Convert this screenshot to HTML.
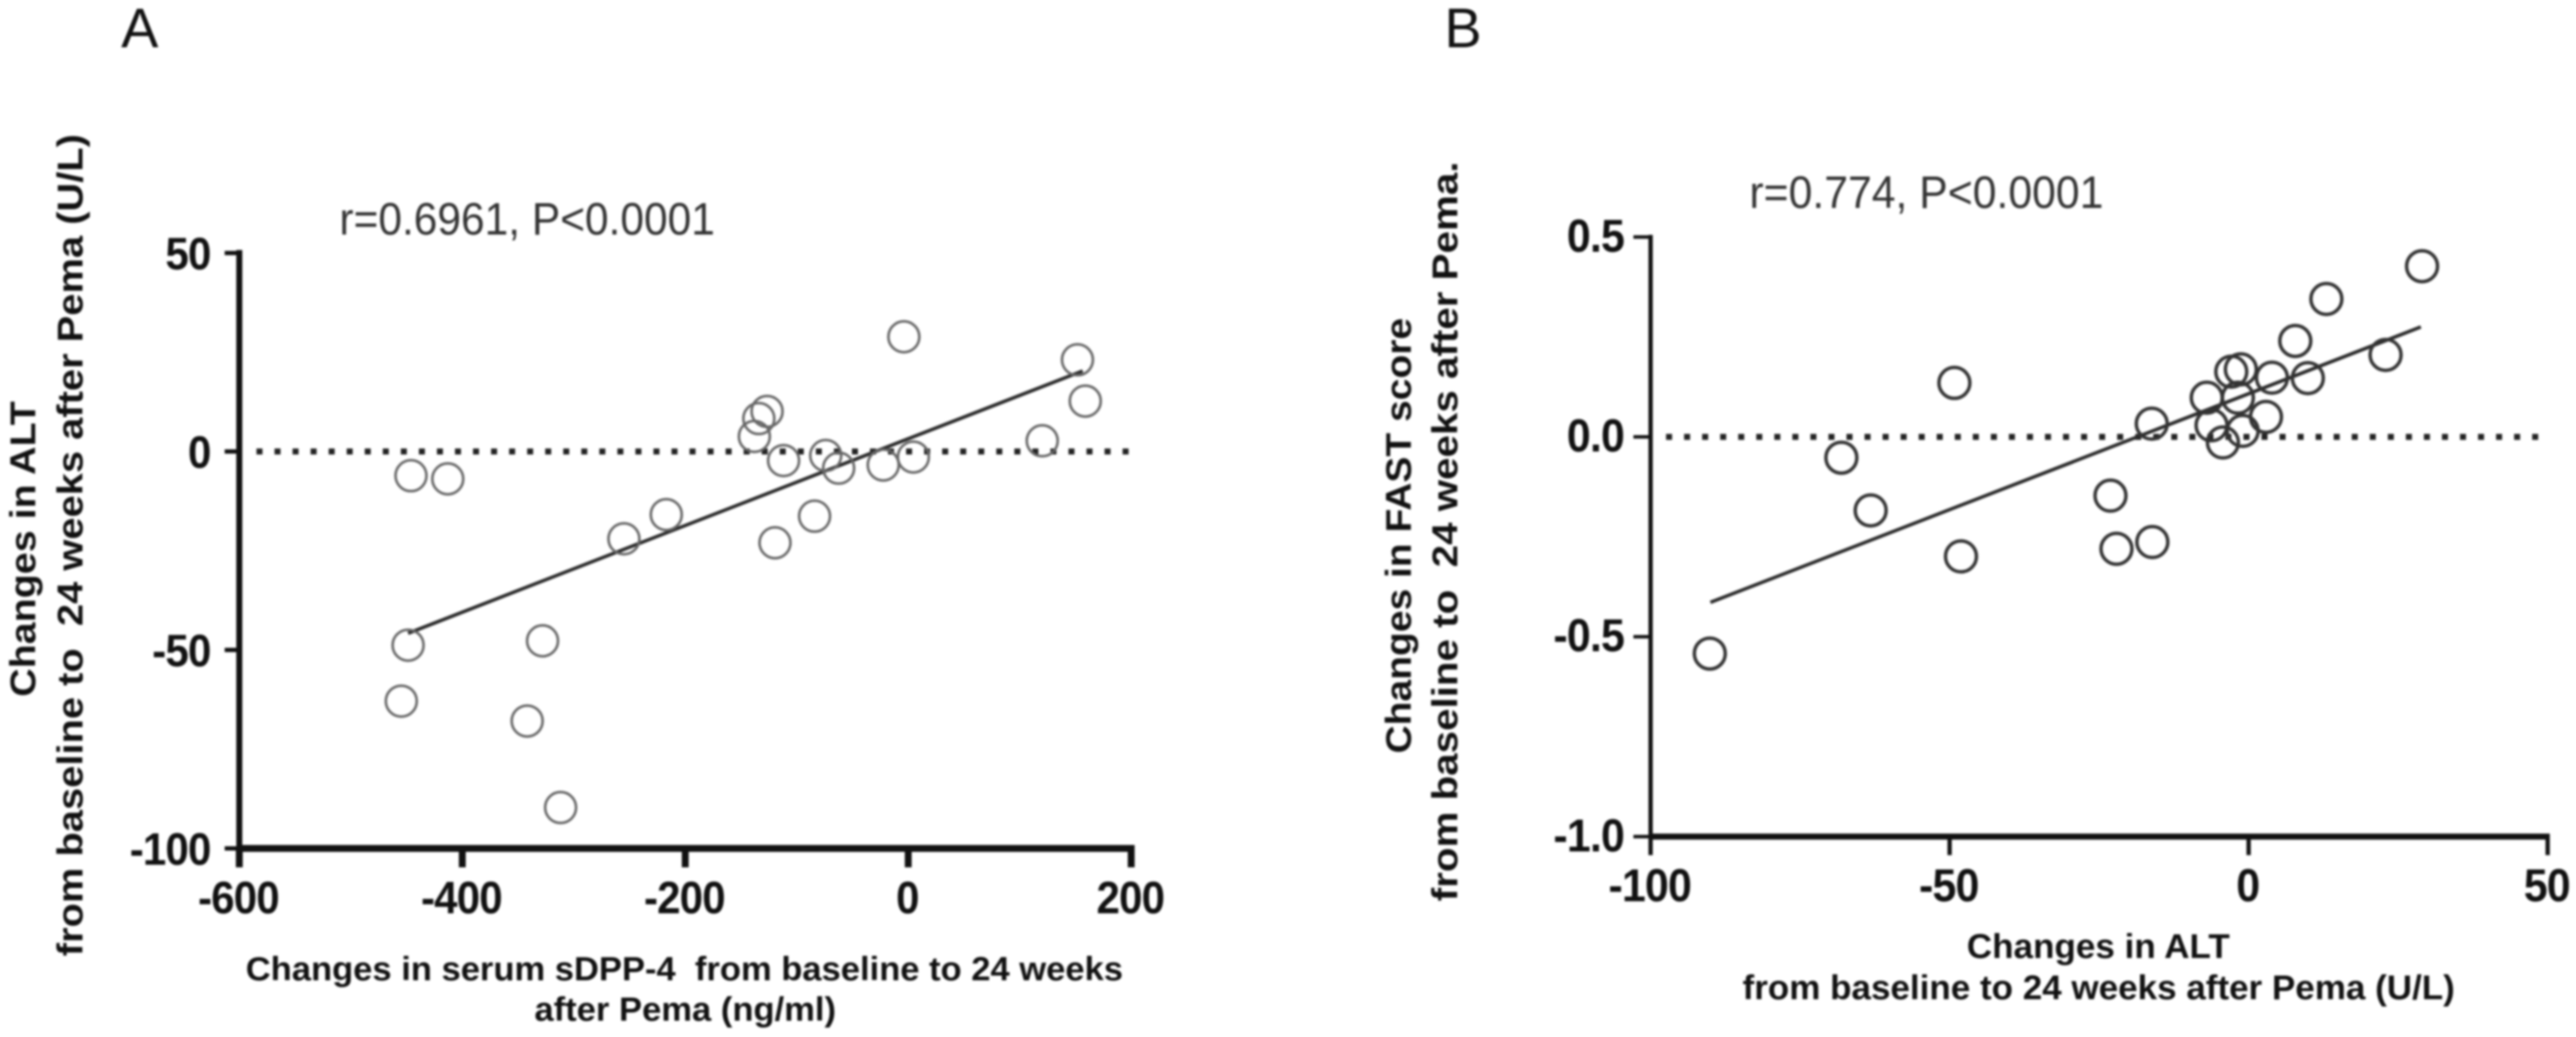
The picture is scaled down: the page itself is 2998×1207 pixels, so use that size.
<!DOCTYPE html>
<html lang="en">
<head>
<meta charset="utf-8">
<title>Scatter plots of ALT, sDPP-4 and FAST score changes</title>
<style>
  html, body { margin: 0; padding: 0; background: #fff; }
  body { width: 2998px; height: 1207px; overflow: hidden; }
  svg { display: block; filter: blur(1.2px); }
  text { font-family: "Liberation Sans", Arial, sans-serif; fill: #111; }
  .title { font-weight: bold; font-size: 42px; }
  .tick { font-weight: bold; letter-spacing: -1px; }
  .stat { font-size: 53px; fill: #333; }
  .panel { font-size: 65px; fill: #111; }
</style>
</head>
<body>
<svg id="figure" width="2998" height="1207" viewBox="0 0 2998 1207" xmlns="http://www.w3.org/2000/svg">
  <rect x="0" y="0" width="2998" height="1207" fill="#fff"/>

  <g id="panel-a">
    <text class="panel" x="141" y="55">A</text>
    <text class="stat" x="395" y="273" textLength="437" lengthAdjust="spacingAndGlyphs">r=0.6961, P&lt;0.0001</text>
    <text class="title" transform="translate(41,811) rotate(-90)" x="0" y="0" textLength="344" lengthAdjust="spacingAndGlyphs">Changes in ALT</text>
    <text class="title" transform="translate(96,1113) rotate(-90)" x="0" y="0" textLength="957" lengthAdjust="spacingAndGlyphs" xml:space="preserve">from baseline to  24 weeks after Pema (U/L)</text>
    <text class="title" style="font-size:39px" x="286" y="1141" textLength="1021" lengthAdjust="spacingAndGlyphs" xml:space="preserve">Changes in serum sDPP-4  from baseline to 24 weeks</text>
    <text class="title" style="font-size:39px" x="622" y="1188" textLength="351" lengthAdjust="spacingAndGlyphs">after Pema (ng/ml)</text>
  </g>

  <g id="panel-b">
    <text class="panel" x="1681" y="55">B</text>
    <text class="stat" x="2036" y="242" textLength="412" lengthAdjust="spacingAndGlyphs">r=0.774, P&lt;0.0001</text>
    <text class="title" transform="translate(1642,877) rotate(-90)" x="0" y="0" textLength="507" lengthAdjust="spacingAndGlyphs">Changes in FAST score</text>
    <text class="title" transform="translate(1696,1049) rotate(-90)" x="0" y="0" textLength="861" lengthAdjust="spacingAndGlyphs" xml:space="preserve">from baseline to  24 weeks after Pema.</text>
    <text class="title" style="font-size:40px" x="2289" y="1115" textLength="306" lengthAdjust="spacingAndGlyphs">Changes in ALT</text>
    <text class="title" style="font-size:40px" x="2028" y="1163" textLength="829" lengthAdjust="spacingAndGlyphs">from baseline to 24 weeks after Pema (U/L)</text>
  </g>
</svg>

<script>
// Panel A data
const panelAXTicks = [-600, -400, -200, 0, 200];
const panelAYTicks = [50, 0, -50, -100];
const panelAXTickLabels = ["-600", "-400", "-200", "0", "200"];
const panelAYTickLabels = ["50", "0", "-50", "-100"];
const panelASdpp4Change = [-126.6, -134, -138, -111.8, -74, -62.4, -22.4, 4.6, -3.9, 151.8, 158.8, 120.2, -84, -119.5, -217, -255, -446, -413, -448.6, -328, -454.7, -341.8, -311.8];
const panelAAltChange = [10.1, 8.3, 3.8, -2.3, -1, -4.2, -3.4, -1.4, 28.9, 23.1, 12.7, 2.7, -16.3, -23, -15.9, -22, -6.1, -6.9, -48.8, -47.7, -62.9, -67.9, -89.7];
const panelAFitX = [-448.6, 156.5];
const panelAFitY = [-45.8, 20.3];

// Panel B data
const panelBXTicks = [-100, -50, 0, 50];
const panelBYTicks = [0.5, 0, -0.5, -1];
const panelBXTickLabels = ["-100", "-50", "0", "50"];
const panelBYTickLabels = ["0.5", "0.0", "-0.5", "-1.0"];
const panelBAltChange = [-90.1, -68.1, -63.2, -49.2, -48.1, -23.1, -22.1, -16.1, -16.2, -7, -6.2, -4.3, -2.9, -1.3, -1.8, -1, 2.9, 3.9, 7.8, 9.9, 13, 22.9, 29];
const panelBFastChange = [-0.542, -0.052, -0.184, 0.135, -0.299, -0.147, -0.28, -0.263, 0.033, 0.098, 0.029, -0.014, 0.163, 0.169, 0.098, 0.015, 0.05, 0.148, 0.24, 0.147, 0.345, 0.205, 0.427];
const panelBFitX = [-90, 28.8];
const panelBFitY = [-0.414, 0.275];

const SVG_NS = "http://www.w3.org/2000/svg";

function makeScale(d0, d1, r0, r1) {
  return function (v) {
    return r0 + (v - d0) * (r1 - r0) / (d1 - d0);
  };
}

function make(parent, tag, attrs, content) {
  const el = document.createElementNS(SVG_NS, tag);
  for (const key in attrs) {
    el.setAttribute(key, attrs[key]);
  }
  if (content !== undefined) {
    el.textContent = content;
  }
  parent.appendChild(el);
  return el;
}

function drawPanel(opts) {
  const root = document.getElementById(opts.id);
  const x = opts.x;
  const y = opts.y;
  const xTicks = opts.xTicks;
  const yTicks = opts.yTicks;
  const xMin = Math.min.apply(null, xTicks);
  const xMax = Math.max.apply(null, xTicks);
  const yMin = Math.min.apply(null, yTicks);
  const yMax = Math.max.apply(null, yTicks);

  const refLine = make(root, "line", {
    x1: x(xMin) + opts.dotInset, y1: y(0), x2: x(xMax), y2: y(0),
    stroke: "#222", "stroke-width": 7, "stroke-dasharray": "7 14"
  });
  
  

  const yAxis = make(root, "line", {
    x1: x(xMin), y1: y(yMax) - opts.axisY / 2, x2: x(xMin), y2: y(yMin),
    stroke: "#111", "stroke-width": opts.axisY
  });
  
  

  const xAxis = make(root, "line", {
    x1: x(xMin), y1: y(yMin), x2: x(xMax) + opts.tickX / 2, y2: y(yMin),
    stroke: "#111", "stroke-width": opts.axisX
  });
  
  

  xTicks.forEach(function (t, i) {
    const tick = make(root, "line", {
      x1: x(t), y1: y(yMin), x2: x(t), y2: y(yMin) + opts.axisX / 2 + 18,
      stroke: "#111", "stroke-width": opts.tickX
    });
    
    

    const label = make(root, "text", {
      class: "tick", x: 0, y: 0,
      transform: "translate(" + (x(t) - 1) + "," + opts.xLabelY + ") scale(1,1.08)",
      "text-anchor": "middle", "font-size": opts.tickFont
    }, opts.xLabels[i]);
    
    
  });

  yTicks.forEach(function (t, i) {
    const tick = make(root, "line", {
      x1: x(xMin) - opts.yTickLen, y1: y(t), x2: x(xMin), y2: y(t),
      stroke: "#111", "stroke-width": opts.tickY
    });
    
    

    const label = make(root, "text", {
      class: "tick", x: 0, y: 0,
      transform: "translate(" + opts.yLabelX + "," + (y(t) + opts.yLabelDy) + ") scale(1,1.08)",
      "text-anchor": "end", "font-size": opts.tickFont
    }, opts.yLabels[i]);
    
    
  });

  const fit = make(root, "line", {
    x1: x(opts.fitX[0]), y1: y(opts.fitY[0]), x2: x(opts.fitX[1]), y2: y(opts.fitY[1]),
    stroke: "#2a2a2a", "stroke-width": 4
  });
  
  

  opts.xs.forEach(function (v, i) {
    const pt = make(root, "circle", {
      cx: x(v), cy: y(opts.ys[i]), r: opts.r,
      fill: "none", stroke: opts.pointColor, "stroke-width": opts.pointStroke
    });
    
    
  });
}

drawPanel({
  id: "panel-a",
  x: makeScale(0, 200, 1057, 1316.5),
  y: makeScale(0, 50, 525.5, 294.5),
  xTicks: panelAXTicks,
  yTicks: panelAYTicks,
  xLabels: panelAXTickLabels,
  yLabels: panelAYTickLabels,
  xs: panelASdpp4Change,
  ys: panelAAltChange,
  fitX: panelAFitX,
  fitY: panelAFitY,
  axisX: 8, axisY: 7, tickX: 8, tickY: 5, yTickLen: 17,
  dotInset: 20, tickFont: 49, xLabelY: 1063, yLabelX: 245, yLabelDy: 19,
  r: 18, pointStroke: 3, pointColor: "#666"
});

drawPanel({
  id: "panel-b",
  x: makeScale(0, 50, 2617, 2965),
  y: makeScale(0, 0.5, 508.5, 275.85),
  xTicks: panelBXTicks,
  yTicks: panelBYTicks,
  xLabels: panelBXTickLabels,
  yLabels: panelBYTickLabels,
  xs: panelBAltChange,
  ys: panelBFastChange,
  fitX: panelBFitX,
  fitY: panelBFitY,
  axisX: 7, axisY: 5, tickX: 5, tickY: 4, yTickLen: 20,
  dotInset: 18, tickFont: 50, xLabelY: 1049, yLabelX: 1890, yLabelDy: 17,
  r: 18, pointStroke: 4, pointColor: "#333"
});
</script>
</body>
</html>
